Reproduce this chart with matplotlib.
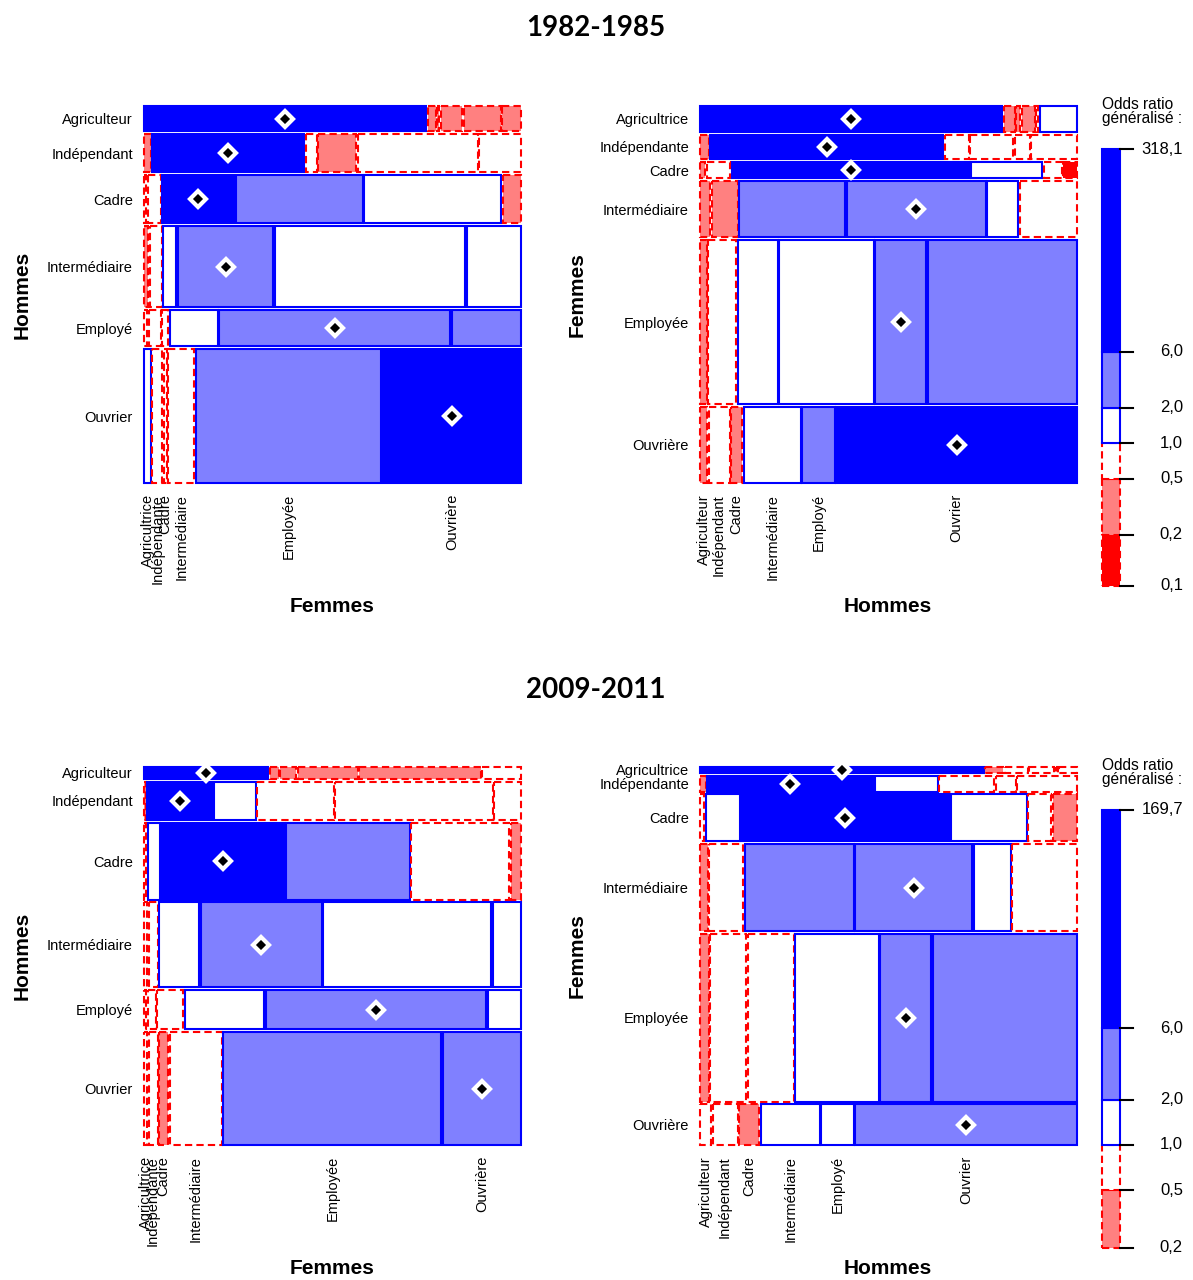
"""Mosaic plots of generalised odds ratios, partner occupation (men x women)."""

import numpy as np
import matplotlib
matplotlib.use("Agg")
import matplotlib.pyplot as plt
from matplotlib.patches import Rectangle

plt.rcParams["font.family"] = ["Liberation Sans", "DejaVu Sans"]

# ---------------------------------------------------------------------------
# Data (shares, odds ratios estimated from the colours)
# ---------------------------------------------------------------------------

LABELS_H = ["Agriculteur", "Indépendant", "Cadre", "Intermédiaire", "Employé", "Ouvrier"]
LABELS_F = ["Agricultrice", "Indépendante", "Cadre", "Intermédiaire", "Employée", "Ouvrière"]

# 1982-1985, rows = men, columns = women
ROWS_82_H = [25, 38, 48, 81, 36, 133]
WIDTHS_82_H = [
    [284, 8, 2, 22, 37, 19],
    [7, 153, 11, 38, 121, 42],
    [2, 13, 72, 127, 137, 18],
    [4, 12, 13, 95, 189, 54],
    [3, 12, 6, 48, 229, 69],
    [7, 10, 3, 26, 187, 139],
]
OR_82_H = [
    [318.1, 0.3, 0.4, 0.3, 0.3, 0.3],
    [0.4, 27.5, 0.7, 0.4, 0.6, 0.6],
    [0.7, 0.8, 14.2, 3.1, 1.2, 0.3],
    [0.4, 0.7, 1.5, 2.9, 1.1, 1.2],
    [0.6, 0.7, 0.8, 1.3, 2.4, 2.2],
    [1.2, 0.8, 0.6, 0.7, 2.3, 6.8],
]

# 1982-1985, rows = women, columns = men
ROWS_82_F = [26, 25, 16, 57, 165, 77]
WIDTHS_82_F = [
    [307, 11, 4, 13, 2, 38],
    [9, 234, 24, 43, 15, 46],
    [5, 24, 238, 71, 18, 14],
    [10, 26, 106, 139, 31, 57],
    [7, 28, 40, 95, 51, 150],
    [7, 21, 11, 57, 32, 240],
]
OR_82_F = [
    [318.1, 0.3, 0.4, 0.4, 0.9, 1.3],
    [0.4, 41.0, 0.8, 0.7, 0.6, 0.6],
    [0.4, 0.7, 17.3, 1.6, 0.7, 0.061],
    [0.4, 0.4, 3.3, 4.1, 1.2, 0.6],
    [0.4, 0.7, 1.2, 1.4, 2.2, 2.1],
    [0.4, 0.6, 0.4, 1.1, 2.1, 7.9],
]

# 2009-2011, rows = men, columns = women
ROWS_09_H = [12, 38, 77, 85, 39, 113]
WIDTHS_09_H = [
    [125, 9, 16, 60, 122, 39],
    [2, 65, 42, 77, 158, 27],
    [2, 12, 123, 123, 98, 10],
    [3, 9, 40, 121, 168, 28],
    [2, 8, 26, 79, 219, 33],
    [3, 9, 9, 52, 218, 78],
]
OR_09_H = [
    [169.7, 0.3, 0.3, 0.4, 0.4, 0.6],
    [0.4, 11.8, 1.6, 0.8, 0.7, 0.6],
    [0.8, 1.3, 9.6, 2.7, 0.8, 0.3],
    [0.7, 0.8, 1.4, 3.0, 1.3, 1.1],
    [0.8, 0.8, 0.7, 1.4, 2.6, 1.2],
    [0.7, 0.7, 0.206, 0.8, 2.5, 4.4],
]

# 2009-2011, rows = women, columns = men
ROWS_09_F = [6, 16, 47, 88, 169, 41]
WIDTHS_09_F = [
    [284, 18, 23, 25, 2, 18],
    [6, 166, 63, 55, 20, 60],
    [4, 34, 208, 76, 23, 24],
    [8, 34, 109, 117, 37, 65],
    [9, 36, 46, 84, 51, 145],
    [11, 25, 20, 59, 32, 221],
]
OR_09_F = [
    [169.7, 0.3, 0.7, 0.8, 0.9, 0.7],
    [0.3, 13.5, 1.5, 0.8, 0.6, 0.6],
    [0.7, 1.4, 8.8, 1.3, 0.7, 0.4],
    [0.4, 0.8, 2.8, 3.4, 1.3, 0.7],
    [0.4, 0.6, 0.6, 1.3, 2.9, 2.2],
    [0.6, 0.7, 0.3, 1.2, 1.5, 4.0],
]

BREAKS = [1 / 6, 0.5, 1, 2, 6]

# ---------------------------------------------------------------------------
# Layout helpers
# ---------------------------------------------------------------------------

W, H = 1193, 1280
ROW_GAP = 0.0075
COL_GAP = 0.004
LW = 1.5
DASH = (0, (3.5, 2))


def box(x0, y0, x1, y1):
    """Pixel box -> figure fraction rect."""
    return [x0 / W, 1 - y1 / H, (x1 - x0) / W, (y1 - y0) / H]


def cell_style(v):
    if v >= 6:
        return "#0000FF", "#0000FF", "solid"
    if v >= 2:
        return "#8080FF", "#0000FF", "solid"
    if v >= 1:
        return "white", "#0000FF", "solid"
    if v >= 0.5:
        return "white", "#FF0000", DASH
    if v >= 1 / 6:
        return "#FF8080", "#FF0000", DASH
    return "#FF0000", "#FF0000", DASH


def draw_mosaic(ax, rows, widths, ors, row_labels, col_labels):
    rows = np.asarray(rows, float)
    heights = rows / rows.sum() * (1 - ROW_GAP * (len(rows) - 1))
    y = 0.0
    row_centres, col_centres = [], []
    for i, h in enumerate(heights):
        w = np.asarray(widths[i], float)
        w = w / w.sum() * (1 - COL_GAP * (len(w) - 1))
        x = 0.0
        col_centres = []
        for j, wj in enumerate(w):
            fc, ec, ls = cell_style(ors[i][j])
            ax.add_patch(Rectangle((x, y), wj, h, facecolor=fc, edgecolor=ec,
                                   linestyle=ls, linewidth=LW, clip_on=False))
            if i == j:
                ax.plot(x + wj / 2, y + h / 2, marker="D", ms=8, mfc="black",
                        mec="white", mew=3, clip_on=False, zorder=5)
            col_centres.append(x + wj / 2)
            x += wj + COL_GAP
        row_centres.append(y + h / 2)
        y += h + ROW_GAP
    ax.set_xlim(0, 1)
    ax.set_ylim(1, 0)
    for s in ax.spines.values():
        s.set_visible(False)
    ax.set_yticks(row_centres, row_labels, fontsize=10.5)
    # bottom labels follow the cells of the last row
    ax.set_xticks(col_centres, col_labels, fontsize=10.5, rotation=90)
    ax.tick_params(length=0, pad=8)
    for t in ax.get_xticklabels():
        t.set_va("top")


def draw_scale(cax, vmin, vmax):
    edges = [vmin] + [b for b in BREAKS if vmin < b < vmax] + [vmax]
    for lo, hi in zip(edges[:-1], edges[1:]):
        fc, ec, ls = cell_style(np.sqrt(lo * hi))
        cax.add_patch(Rectangle((0, lo), 1, hi - lo, facecolor=fc, edgecolor=ec,
                                linestyle=ls, linewidth=LW, clip_on=False))
    cax.set_yscale("log")
    cax.set_ylim(vmin, vmax)
    cax.set_xlim(0, 1)
    cax.axis("off")
    for v in edges:
        cax.plot([1, 1 + 13 / 18], [v, v], color="black", lw=1.5, clip_on=False)
        cax.text(4.5, v, f"{v:.1f}".replace(".", ","), ha="right", va="center",
                 fontsize=12, transform=cax.get_yaxis_transform())


def fig_text(x, y, s, **kw):
    fig.text(x / W, 1 - y / H, s, **kw)


# ---------------------------------------------------------------------------
# Figure
# ---------------------------------------------------------------------------

fig = plt.figure(figsize=(W / 100, H / 100), dpi=100)

periods = [
    ("1982-1985", 28, 106, 483, 149, 586,
     (ROWS_82_H, WIDTHS_82_H, OR_82_H), (ROWS_82_F, WIDTHS_82_F, OR_82_F)),
    ("2009-2011", 690, 767, 1145, 810, 1248,
     (ROWS_09_H, WIDTHS_09_H, OR_09_H), (ROWS_09_F, WIDTHS_09_F, OR_09_F)),
]

for title, ty, y0, y1, cy0, cy1, men, women in periods:
    fig_text(596, ty, title, ha="center", va="center", fontsize=20,
             fontweight="bold", family=["Lato", "DejaVu Sans"])

    ax = fig.add_axes(box(144, y0, 521, y1))
    draw_mosaic(ax, *men, LABELS_H, LABELS_F)
    fig_text(22, (y0 + y1) / 2, "Hommes", rotation=90, ha="center", va="center",
             fontsize=15, fontweight="bold")
    fig_text(332, y1 + 124, "Femmes", ha="center", va="center",
             fontsize=15, fontweight="bold")

    ax = fig.add_axes(box(700, y0, 1077, y1))
    draw_mosaic(ax, *women, LABELS_F, LABELS_H)
    fig_text(577, (y0 + y1) / 2, "Femmes", rotation=90, ha="center", va="center",
             fontsize=15, fontweight="bold")
    fig_text(888, y1 + 124, "Hommes", ha="center", va="center",
             fontsize=15, fontweight="bold")

    all_or = np.concatenate([np.ravel(men[2]), np.ravel(women[2])])
    cax = fig.add_axes(box(1102, cy0, 1120, cy1))
    draw_scale(cax, all_or.min(), all_or.max())
    fig_text(1102, cy0 - 52, "Odds ratio\ngénéralisé :", ha="left", va="top",
             fontsize=11.2, linespacing=0.95)

fig.savefig("out.png", dpi=100)
